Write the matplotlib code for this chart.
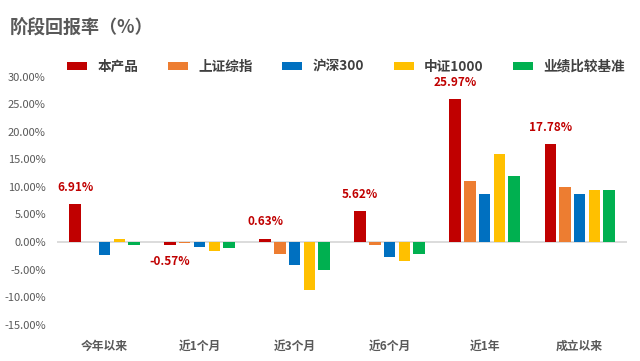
import numpy as np
import matplotlib
matplotlib.use('Agg')
import matplotlib.pyplot as plt
from matplotlib.ticker import FuncFormatter

plt.rcParams['font.family'] = ['Noto Sans CJK SC', 'DejaVu Sans']

periods = ['今年以来', '近1个月', '近3个月', '近6个月', '近1年', '成立以来']
series_names = ['本产品', '上证综指', '沪深300', '中证1000', '业绩比较基准']
product = [6.91, -0.57, 0.63, 5.62, 25.97, 17.78]
sse = [0.05, -0.25, -2.2, -0.5, 11.1, 10.0]
csi300 = [-2.4, -0.9, -4.2, -2.7, 8.7, 8.7]
csi1000 = [0.6, -1.6, -8.7, -3.4, 16.0, 9.4]
benchmark = [-0.5, -1.1, -5.1, -2.2, 12.0, 9.4]
colors = ['#C00000', '#ED7D31', '#0070C0', '#FFC000', '#00B050']

grey = '#595959'

fig = plt.figure(figsize=(6.4, 3.61), dpi=100)
ax = fig.add_axes([0.089, 0.101, 0.891, 0.686])

x = np.arange(len(periods))
step = 0.155
width = 0.12
all_series = [product, sse, csi300, csi1000, benchmark]
for i, (vals, name, c) in enumerate(zip(all_series, series_names, colors)):
    ax.bar(x + (i - 2) * step, vals, width=width, color=c, label=name, zorder=3)

# labels for the product bars
for xi, v in zip(x, product):
    off = 12 if v >= 0 else -12
    ax.annotate(f'{v:.2f}%', (xi - 2 * step, v), xytext=(0, off),
                textcoords='offset points', ha='center', va='center',
                fontsize=8.5, fontweight='bold', color='#C00000')

ax.axhline(0, color='#D9D9D9', lw=1.3, zorder=2)
ax.set_xlim(-0.5, len(periods) - 0.5)
ax.set_ylim(-15, 30)
ax.set_yticks(np.arange(-15, 31, 5))
ax.yaxis.set_major_formatter(FuncFormatter(lambda v, p: f'{v:.2f}%'))
ax.set_xticks(x)
ax.set_xticklabels(periods, fontsize=8.5, fontweight='bold', color=grey)
ax.tick_params(axis='x', length=0, pad=11)
ax.tick_params(axis='y', length=0, pad=8, labelsize=8, labelcolor=grey)
for s in ax.spines.values():
    s.set_visible(False)

fig.text(0.016, 0.922, '阶段回报率（%）', fontsize=13, fontweight='bold',
         color=grey, ha='left', va='center')

leg = fig.legend(loc='center left', bbox_to_anchor=(0.086, 0.815), ncol=5,
                 frameon=False, handlelength=1.45, handleheight=0.55,
                 handletextpad=0.75, columnspacing=2.2,
                 prop={'size': 9.8, 'weight': 'bold'})
for t in leg.get_texts():
    t.set_color('#404040')

fig.savefig('out.png', dpi=100)
